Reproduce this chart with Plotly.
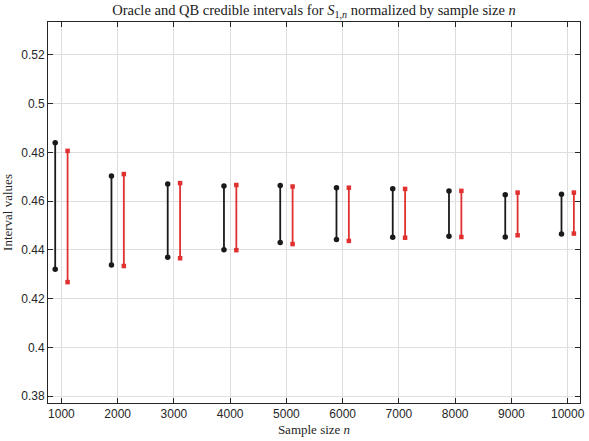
import plotly.graph_objects as go

n_values = [1000, 2000, 3000, 4000, 5000, 6000, 7000, 8000, 9000, 10000]
x_tick_labels = ["1000", "2000", "3000", "4000", "5000", "6000", "7000", "8000", "9000", "10000"]
y_tick_values = [0.38, 0.40, 0.42, 0.44, 0.46, 0.48, 0.50, 0.52]
y_tick_labels = ["0.38", "0.4", "0.42", "0.44", "0.46", "0.48", "0.5", "0.52"]
oracle_low = [0.4321, 0.4338, 0.4370, 0.4401, 0.4430, 0.4443, 0.4452, 0.4456, 0.4453, 0.4465]
oracle_high = [0.4839, 0.4703, 0.4670, 0.4662, 0.4664, 0.4655, 0.4651, 0.4642, 0.4626, 0.4628]
qb_low = [0.4268, 0.4334, 0.4366, 0.4399, 0.4424, 0.4437, 0.4450, 0.4453, 0.4460, 0.4467]
qb_high = [0.4806, 0.4711, 0.4674, 0.4666, 0.4660, 0.4655, 0.4650, 0.4642, 0.4635, 0.4635]
offset = 110

def segs(xs, lo, hi, dx):
    X, Y = [], []
    for x, a, b in zip(xs, lo, hi):
        X += [x + dx, x + dx, None]
        Y += [a, b, None]
    return X, Y

fig = go.Figure()
xo, yo = segs(n_values, oracle_low, oracle_high, -offset)
xq, yq = segs(n_values, qb_low, qb_high, offset)
fig.add_trace(go.Scatter(x=xo, y=yo, mode="lines+markers", line=dict(color="#1a1a1a", width=1.8),
                         marker=dict(symbol="circle", size=5.5, color="#1a1a1a"), showlegend=False))
fig.add_trace(go.Scatter(x=xq, y=yq, mode="lines+markers", line=dict(color="#e03030", width=1.8),
                         marker=dict(symbol="square", size=4.5, color="#e03030"), showlegend=False))

axis_common = dict(showline=True, linecolor="#262626", linewidth=1, mirror="ticks",
                   ticks="inside", ticklen=5, tickcolor="#262626", automargin=False,
                   showgrid=True, gridcolor="#dedede", gridwidth=1, zeroline=False,
                   tickfont=dict(family="Liberation Sans, Arial", size=12, color="#262626"))
fig.update_xaxes(range=[762, 10219], tickvals=n_values, ticktext=x_tick_labels,
                 title=dict(text="Sample size <i>n</i>", font=dict(family="Liberation Serif, serif", size=13, color="#262626"), standoff=4),
                 **axis_common)
fig.update_yaxes(range=[0.37725, 0.53343], tickvals=y_tick_values, ticktext=y_tick_labels,
                 title=dict(text="Interval values", font=dict(family="Liberation Serif, serif", size=13, color="#262626"), standoff=6),
                 **axis_common)
fig.update_layout(
    width=589, height=441,
    margin=dict(l=48, r=9, t=22, b=38),
    paper_bgcolor="white", plot_bgcolor="white",
    title=dict(text="Oracle and QB credible intervals for <i>S</i><sub>1,<i>n</i></sub> normalized by sample size <i>n</i>",
               xref="paper", x=0.5, xanchor="center", y=0.99, yanchor="top",
               font=dict(family="Liberation Serif, serif", size=14.5, color="#1a1a1a")),
)
fig.write_html("out.html")
